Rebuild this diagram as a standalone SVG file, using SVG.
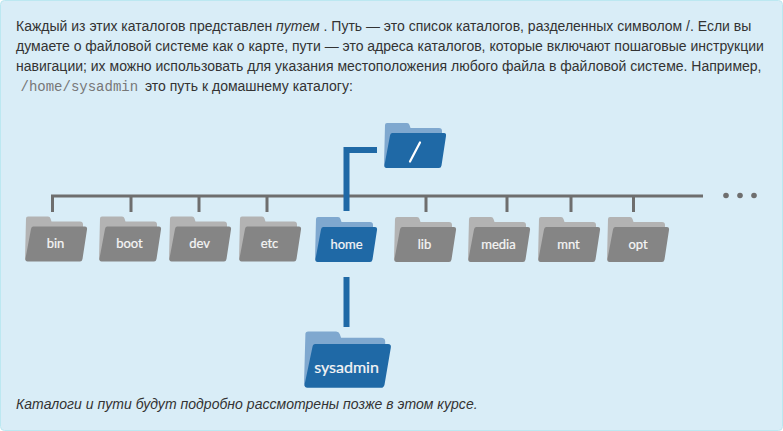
<svg xmlns="http://www.w3.org/2000/svg" width="783" height="431" viewBox="0 0 783 431">
<style>
.t{font:14px "Liberation Sans",Arial,sans-serif;fill:#333}
.i{font-style:italic}
.m{font:14px "Liberation Mono","Courier New",monospace;fill:#777}
.l{font:13px "Lato",sans-serif;fill:#f6f6f6;text-anchor:middle;stroke:#f6f6f6;stroke-width:.2}
.gb{fill:#b3b3b3}.gf{fill:#858585}
.bb{fill:#7fa8cf}.bf{fill:#1f69a6}
.gl{fill:none;stroke:#6e6e6e;stroke-width:3}
.bl{fill:none;stroke:#1f69a6;stroke-width:6}
</style>
<defs>
<path id="back" d="M1 2Q1 0 3 0H23Q25 0 25.500 2L26.500 5H55Q58 5 58 8V14H8L3 44H1.500Q0 44 0 42Z"/>
<path id="front" d="M8 10H60Q62.500 10 62 13L57.500 42.500Q57 45 55 45H2.500Q0 45 0.500 42L6 12.500Q6.400 10 8 10Z"/>
<g id="grey"><use href="#back" class="gb"/><use href="#front" class="gf"/></g>
<g id="blue"><use href="#back" class="bb"/><use href="#front" class="bf"/></g>
</defs>
<rect x="0.500" y="0.500" width="782" height="430" rx="4" fill="#d9edf7" stroke="#bce8f1"/>
<g id="text">
<text class="t" x="16" y="31">Каждый из этих каталогов представлен <tspan class="i">путем</tspan> . Путь — это список каталогов, разделенных символом /. Если вы</text>
<text class="t" x="16" y="51">думаете о файловой системе как о карте, пути — это адреса каталогов, которые включают пошаговые инструкции</text>
<text class="t" x="16" y="71">навигации; их можно использовать для указания местоположения любого файла в файловой системе. Например,</text>
<text class="m" x="20.500" y="91">/home/sysadmin</text>
<text class="t" x="145" y="91">это путь к домашнему каталогу:</text>
<text class="t i" x="16" y="409" letter-spacing=".03">Каталоги и пути будут подробно рассмотрены позже в этом курсе.</text>
</g>
<g id="connectors">
<path class="gl" d="M52.500 212V196H703M131 196V212M199 196V212M267 196V212M426 196V212M507 196V212M571 196V212M633.500 196V212"/>
<path class="bl" d="M377 150H346.500V211"/>
<path class="bl" d="M346.500 277V327"/>
<g fill="#6e6e6e"><circle cx="726" cy="195.500" r="2.800"/><circle cx="740" cy="195.500" r="2.800"/><circle cx="754" cy="195.500" r="2.800"/></g>
</g>
<g id="root"><use href="#blue" x="384" y="123"/><path d="M410 161.500L420 142.500" stroke="#fff" stroke-width="2.200" stroke-linecap="round"/></g>
<g id="bin"><use href="#grey" x="25" y="216.500"/><text class="l" x="55.500" y="248">bin</text></g>
<g id="boot"><use href="#grey" x="99" y="216.500"/><text class="l" x="129.500" y="248">boot</text></g>
<g id="dev"><use href="#grey" x="169" y="216.500"/><text class="l" x="199.500" y="248">dev</text></g>
<g id="etc"><use href="#grey" x="239" y="216.500"/><text class="l" x="269.500" y="248">etc</text></g>
<g id="home"><use href="#blue" x="315" y="217"/><text class="l" x="346.500" y="249">home</text></g>
<g id="lib"><use href="#grey" x="394" y="217"/><text class="l" x="424.500" y="249">lib</text></g>
<g id="media"><use href="#grey" x="468" y="217"/><text class="l" x="498.500" y="249">media</text></g>
<g id="mnt"><use href="#grey" x="538" y="217"/><text class="l" x="568.500" y="249">mnt</text></g>
<g id="opt"><use href="#grey" x="607" y="217"/><text class="l" x="638" y="249">opt</text></g>
<g id="sysadmin"><use href="#blue" transform="translate(304 331.500) scale(1.400 1.250)"/><text class="l" style="font-size:16px" x="346.500" y="373">sysadmin</text></g>
</svg>
